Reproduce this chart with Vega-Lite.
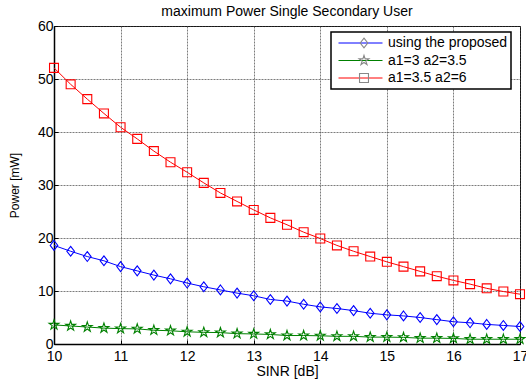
{
  "$schema": "https://vega.github.io/schema/vega-lite/v6.json",
  "width": 466,
  "height": 318,
  "autosize": {"type": "none"},
  "padding": {"left": 54, "top": 26, "right": 6, "bottom": 37},
  "background": "white",
  "title": {"text": "maximum Power Single Secondary User", "fontSize": 14, "fontWeight": "normal", "font": "Liberation Sans", "color": "black", "offset": 0},
  "config": {
    "view": {"stroke": "black", "strokeWidth": 1},
    "axis": {
      "labelFont": "Liberation Sans", "labelFontSize": 14, "labelColor": "black",
      "titleFont": "Liberation Sans", "titleFontSize": 14, "titleFontWeight": "normal", "titleColor": "black",
      "domainColor": "black", "domainWidth": 1.5,
      "tickColor": "black", "tickSize": -4, "tickWidth": 1,
      "gridColor": "#444", "gridDash": [2, 1], "gridOpacity": 0.7, "gridWidth": 1
    }
  },
  "data": {"values": [
    {"x": 10, "y": 18.6, "s": "using the proposed"},
    {"x": 10.25, "y": 17.5, "s": "using the proposed"},
    {"x": 10.5, "y": 16.5, "s": "using the proposed"},
    {"x": 10.75, "y": 15.7, "s": "using the proposed"},
    {"x": 11, "y": 14.6, "s": "using the proposed"},
    {"x": 11.25, "y": 13.8, "s": "using the proposed"},
    {"x": 11.5, "y": 13.0, "s": "using the proposed"},
    {"x": 11.75, "y": 12.3, "s": "using the proposed"},
    {"x": 12, "y": 11.5, "s": "using the proposed"},
    {"x": 12.25, "y": 10.8, "s": "using the proposed"},
    {"x": 12.5, "y": 10.2, "s": "using the proposed"},
    {"x": 12.75, "y": 9.6, "s": "using the proposed"},
    {"x": 13, "y": 9.1, "s": "using the proposed"},
    {"x": 13.25, "y": 8.4, "s": "using the proposed"},
    {"x": 13.5, "y": 8.1, "s": "using the proposed"},
    {"x": 13.75, "y": 7.5, "s": "using the proposed"},
    {"x": 14, "y": 7.0, "s": "using the proposed"},
    {"x": 14.25, "y": 6.7, "s": "using the proposed"},
    {"x": 14.5, "y": 6.3, "s": "using the proposed"},
    {"x": 14.75, "y": 5.8, "s": "using the proposed"},
    {"x": 15, "y": 5.5, "s": "using the proposed"},
    {"x": 15.25, "y": 5.3, "s": "using the proposed"},
    {"x": 15.5, "y": 5.0, "s": "using the proposed"},
    {"x": 15.75, "y": 4.6, "s": "using the proposed"},
    {"x": 16, "y": 4.2, "s": "using the proposed"},
    {"x": 16.25, "y": 4.0, "s": "using the proposed"},
    {"x": 16.5, "y": 3.7, "s": "using the proposed"},
    {"x": 16.75, "y": 3.5, "s": "using the proposed"},
    {"x": 17, "y": 3.3, "s": "using the proposed"},
    {"x": 10, "y": 3.6, "s": "a1=3 a2=3.5"},
    {"x": 10.25, "y": 3.4, "s": "a1=3 a2=3.5"},
    {"x": 10.5, "y": 3.2, "s": "a1=3 a2=3.5"},
    {"x": 10.75, "y": 3.0, "s": "a1=3 a2=3.5"},
    {"x": 11, "y": 2.9, "s": "a1=3 a2=3.5"},
    {"x": 11.25, "y": 2.85, "s": "a1=3 a2=3.5"},
    {"x": 11.5, "y": 2.6, "s": "a1=3 a2=3.5"},
    {"x": 11.75, "y": 2.5, "s": "a1=3 a2=3.5"},
    {"x": 12, "y": 2.3, "s": "a1=3 a2=3.5"},
    {"x": 12.25, "y": 2.2, "s": "a1=3 a2=3.5"},
    {"x": 12.5, "y": 2.15, "s": "a1=3 a2=3.5"},
    {"x": 12.75, "y": 1.95, "s": "a1=3 a2=3.5"},
    {"x": 13, "y": 1.9, "s": "a1=3 a2=3.5"},
    {"x": 13.25, "y": 1.8, "s": "a1=3 a2=3.5"},
    {"x": 13.5, "y": 1.6, "s": "a1=3 a2=3.5"},
    {"x": 13.75, "y": 1.6, "s": "a1=3 a2=3.5"},
    {"x": 14, "y": 1.55, "s": "a1=3 a2=3.5"},
    {"x": 14.25, "y": 1.45, "s": "a1=3 a2=3.5"},
    {"x": 14.5, "y": 1.45, "s": "a1=3 a2=3.5"},
    {"x": 14.75, "y": 1.3, "s": "a1=3 a2=3.5"},
    {"x": 15, "y": 1.3, "s": "a1=3 a2=3.5"},
    {"x": 15.25, "y": 1.25, "s": "a1=3 a2=3.5"},
    {"x": 15.5, "y": 1.1, "s": "a1=3 a2=3.5"},
    {"x": 15.75, "y": 1.1, "s": "a1=3 a2=3.5"},
    {"x": 16, "y": 1.05, "s": "a1=3 a2=3.5"},
    {"x": 16.25, "y": 0.9, "s": "a1=3 a2=3.5"},
    {"x": 16.5, "y": 0.9, "s": "a1=3 a2=3.5"},
    {"x": 16.75, "y": 0.9, "s": "a1=3 a2=3.5"},
    {"x": 17, "y": 0.9, "s": "a1=3 a2=3.5"},
    {"x": 10, "y": 52.1, "s": "a1=3.5 a2=6"},
    {"x": 10.25, "y": 49.0, "s": "a1=3.5 a2=6"},
    {"x": 10.5, "y": 46.2, "s": "a1=3.5 a2=6"},
    {"x": 10.75, "y": 43.5, "s": "a1=3.5 a2=6"},
    {"x": 11, "y": 40.9, "s": "a1=3.5 a2=6"},
    {"x": 11.25, "y": 38.7, "s": "a1=3.5 a2=6"},
    {"x": 11.5, "y": 36.4, "s": "a1=3.5 a2=6"},
    {"x": 11.75, "y": 34.3, "s": "a1=3.5 a2=6"},
    {"x": 12, "y": 32.4, "s": "a1=3.5 a2=6"},
    {"x": 12.25, "y": 30.4, "s": "a1=3.5 a2=6"},
    {"x": 12.5, "y": 28.5, "s": "a1=3.5 a2=6"},
    {"x": 12.75, "y": 26.9, "s": "a1=3.5 a2=6"},
    {"x": 13, "y": 25.3, "s": "a1=3.5 a2=6"},
    {"x": 13.25, "y": 23.8, "s": "a1=3.5 a2=6"},
    {"x": 13.5, "y": 22.5, "s": "a1=3.5 a2=6"},
    {"x": 13.75, "y": 21.1, "s": "a1=3.5 a2=6"},
    {"x": 14, "y": 19.9, "s": "a1=3.5 a2=6"},
    {"x": 14.25, "y": 18.6, "s": "a1=3.5 a2=6"},
    {"x": 14.5, "y": 17.5, "s": "a1=3.5 a2=6"},
    {"x": 14.75, "y": 16.5, "s": "a1=3.5 a2=6"},
    {"x": 15, "y": 15.5, "s": "a1=3.5 a2=6"},
    {"x": 15.25, "y": 14.6, "s": "a1=3.5 a2=6"},
    {"x": 15.5, "y": 13.7, "s": "a1=3.5 a2=6"},
    {"x": 15.75, "y": 12.8, "s": "a1=3.5 a2=6"},
    {"x": 16, "y": 12.0, "s": "a1=3.5 a2=6"},
    {"x": 16.25, "y": 11.3, "s": "a1=3.5 a2=6"},
    {"x": 16.5, "y": 10.5, "s": "a1=3.5 a2=6"},
    {"x": 16.75, "y": 9.9, "s": "a1=3.5 a2=6"},
    {"x": 17, "y": 9.4, "s": "a1=3.5 a2=6"}
  ]},
  "encoding": {
    "x": {"field": "x", "type": "quantitative", "title": "SINR [dB]",
          "scale": {"domain": [10, 17], "nice": false},
          "axis": {"values": [10, 11, 12, 13, 14, 15, 16, 17], "labelPadding": 9, "titlePadding": 1, "labelFlush": false}},
    "y": {"field": "y", "type": "quantitative", "title": "Power [mW]",
          "scale": {"domain": [0, 60], "nice": false},
          "axis": {"values": [0, 10, 20, 30, 40, 50, 60], "labelPadding": 5, "titlePadding": 16, "titleFontSize": 12}},
    "color": {"field": "s", "type": "nominal",
              "scale": {"domain": ["using the proposed", "a1=3 a2=3.5", "a1=3.5 a2=6"], "range": ["#0000ff", "#008000", "#ff0000"]},
              "legend": {
                "title": null, "orient": "none", "legendX": 277, "legendY": 6,
                "padding": 3, "symbolOffset": 4, "strokeColor": "black", "fillColor": "white",
                "symbolType": "stroke", "symbolSize": 1936, "symbolStrokeWidth": 1,
                "clipHeight": 16, "rowPadding": 1.5, "labelOffset": 5,
                "labelFont": "Liberation Sans", "labelFontSize": 14, "labelColor": "black",
                "zindex": 1,
                "encode": {"legend": {"update": {"strokeWidth": {"value": 1.5}}}}
              }}
  },
  "layer": [
    {"mark": {"type": "line", "strokeWidth": 1}},
    {"mark": {"type": "point", "filled": false, "strokeWidth": 1.1, "size": 80, "opacity": 1},
     "encoding": {
       "shape": {"field": "s", "type": "nominal",
                 "scale": {"domain": ["a1=3 a2=3.5", "a1=3.5 a2=6", "using the proposed"],
                           "range": ["M0,-1.15L0.256,-0.353L1.094,-0.355L0.415,0.135L0.676,0.93L0,0.437L-0.676,0.93L-0.415,0.135L-1.094,-0.355L-0.256,-0.353Z", "square", "M0,-1.1L0.85,0L0,1.1L-0.85,0Z"]},
                 "legend": {
                   "title": null, "orient": "none", "legendX": 277, "legendY": 6,
                   "values": ["using the proposed", "a1=3 a2=3.5", "a1=3.5 a2=6"],
                   "padding": 3, "symbolOffset": 23,
                   "symbolSize": 80, "symbolStrokeWidth": 1.1, "symbolFillColor": "transparent",
                   "clipHeight": 16, "rowPadding": 1.5, "labelExpr": "''", "labelOffset": 0,
                   "labelFont": "Liberation Sans", "labelFontSize": 14,
                   "zindex": 2,
                   "encode": {"symbols": {"update": {
                     "stroke": {"signal": "scale('color', datum.value)"},
                     "fill": {"value": "transparent"}
                   }}}
                 }}
     }}
  ]
}
